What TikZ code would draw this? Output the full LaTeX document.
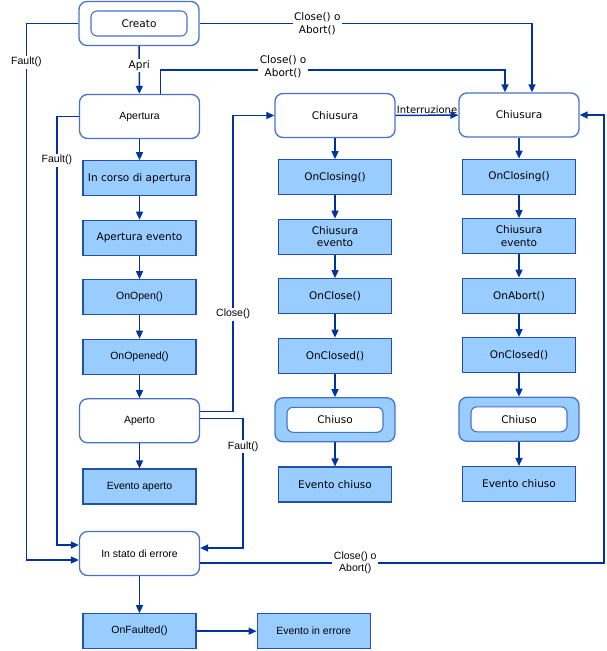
\documentclass[tikz,border=0pt]{standalone}
\usepackage{fontspec}
\setmainfont{DejaVu Sans}
\newfontfamily\arialfont{Liberation Sans}
\usetikzlibrary{arrows.meta, positioning}
\definecolor{lineblue}{RGB}{0,51,160}
\definecolor{edgeblue}{RGB}{70,115,200}
\definecolor{actblue}{RGB}{35,80,170}
\definecolor{fillblue}{RGB}{153,204,255}
\newcommand{\fsz}{\fontsize{10.5}{12.5}\selectfont}
\tikzset{
  block/.style={
    rectangle, align=center, inner sep=0pt, font=\fsz, text=black
  },
  stt/.style={block, rounded corners=8pt, minimum width=120pt,
    minimum height=44pt, draw=edgeblue, fill=white, line width=1.3pt},
  cmp/.style={stt, fill=fillblue},
  inr/.style={block, rounded corners=6pt, minimum width=96pt,
    minimum height=25pt, draw=edgeblue, fill=white, line width=1.1pt},
  act/.style={block, minimum width=113pt, minimum height=35pt,
    draw=actblue, fill=fillblue, line width=1.1pt},
  ar/.style={font=\fsz\arialfont},
  arr/.style={-{Triangle[length=8pt, width=7pt]}, line width=1.5pt, lineblue},
  lbl/.style={fill=white, inner sep=1.5pt, align=center, font=\fsz, text=black},
  albl/.style={lbl, font=\fsz\arialfont}
}

\begin{document}
\begin{tikzpicture}[x=1pt, y=-1pt, node distance=23.4pt]
  \useasboundingbox (0,0) rectangle (606,651);

  % apertura
  \node[stt] (creato) at (139,23.5) {};
  \node[inr] (creatoIn) at (creato) {Creato};
  \node[stt, ar] (apertura) at (139.5,116.5) {Apertura};
  \node[act, below=21pt of apertura] (incorso) {In corso di apertura};
  \node[act, below=of incorso] (apevt) {Apertura evento};
  \node[act, ar, below=of apevt] (onopen) {OnOpen()};
  \node[act, ar, below=of onopen] (onopened) {OnOpened()};
  \node[stt, ar, below=of onopened] (aperto) {Aperto};
  \node[act, ar, below=25pt of aperto] (evaperto) {Evento aperto};
  \node[stt, ar] (errore) at (139.5,553.5) {In stato di errore};
  \node[act, ar, below=37pt of errore] (onfaulted) {OnFaulted()};
  \node[act, ar, right=60pt of onfaulted] (evfault) {Evento in errore};

  % chiusura
  \node[stt] (chiusA) at (335,115.5) {Chiusura};
  \node[act, below=21pt of chiusA] (closingA) {OnClosing()};
  \node[act, below=of closingA] (chevA) {Chiusura\\evento};
  \node[act, below=of chevA] (onclose) {OnClose()};
  \node[act, below=of onclose] (closedA) {OnClosed()};
  \node[cmp, below=of closedA] (chiusoA) {};
  \node[inr] (chiusoAIn) at (chiusoA) {Chiuso};
  \node[act, below=24pt of chiusoA] (evchA) {Evento chiuso};

  % interruzione
  \node[stt] (chiusB) at (519,115) {Chiusura};
  \node[act, below=21pt of chiusB] (closingB) {OnClosing()};
  \node[act, below=of closingB] (chevB) {Chiusura\\evento};
  \node[act, below=of chevB] (onabort) {OnAbort()};
  \node[act, below=of onabort] (closedB) {OnClosed()};
  \node[cmp, below=of closedB] (chiusoB) {};
  \node[inr] (chiusoBIn) at (chiusoB) {Chiuso};
  \node[act, below=24pt of chiusoB] (evchB) {Evento chiuso};

  \draw[arr] (creato) -- node[lbl, pos=0.4] {Apri} (apertura);
  \draw[arr] (apertura) -- (incorso);
  \draw[arr] (incorso) -- (apevt);
  \draw[arr] (apevt) -- (onopen);
  \draw[arr] (onopen) -- (onopened);
  \draw[arr] (onopened) -- (aperto);
  \draw[arr] (aperto) -- (evaperto);
  \draw[arr] (errore) -- (onfaulted);
  \draw[arr] (onfaulted) -- (evfault);

  \draw[arr] (chiusA) -- (closingA);
  \draw[arr] (closingA) -- (chevA);
  \draw[arr] (chevA) -- (onclose);
  \draw[arr] (onclose) -- (closedA);
  \draw[arr] (closedA) -- (chiusoA);
  \draw[arr] (chiusoA) -- (evchA);

  \draw[arr] (chiusB) -- (closingB);
  \draw[arr] (closingB) -- (chevB);
  \draw[arr] (chevB) -- (onabort);
  \draw[arr] (onabort) -- (closedB);
  \draw[arr] (closedB) -- (chiusoB);
  \draw[arr] (chiusoB) -- (evchB);

  \draw[arr] (chiusA) -- node[above=0pt, inner sep=1pt, text=black] {Interruzione} (chiusB);

  \draw[arr] (creato.east) -| node[lbl, pos=0.177] {Close() o\\Abort()}
      ([xshift=13pt]chiusB.north);
  \draw[arr] ([xshift=21pt]apertura.north) -- ++(0,-24)
      -| node[lbl, pos=0.178, yshift=3pt] {Close() o\\Abort()}
      ([xshift=-14pt]chiusB.north);

  \draw[arr] (creato.west) -- ++(-52,0)
      |- node[albl, pos=0.036] {Fault()} ([yshift=-6.5pt]errore.west);
  \draw[arr] (apertura.west) -- ++(-22,0)
      |- node[albl, pos=0.051] {Fault()} ([yshift=8.5pt]errore.west);

  \draw[arr] ([yshift=9.5pt]aperto.east) -- ++(33,0)
      |- node[albl, pos=0.164] {Close()} (chiusA.west);
  \draw[arr] ([yshift=2.5pt]aperto.east) -- ++(43,0)
      |- node[albl, pos=0.11] {Fault()} ([yshift=5.5pt]errore.east);

  \draw[arr] ([yshift=-9.5pt]errore.east)
      -- node[albl, pos=0.384] {Close() o\\Abort()} ++(404,0)
      |- (chiusB.east);
\end{tikzpicture}
\end{document}
